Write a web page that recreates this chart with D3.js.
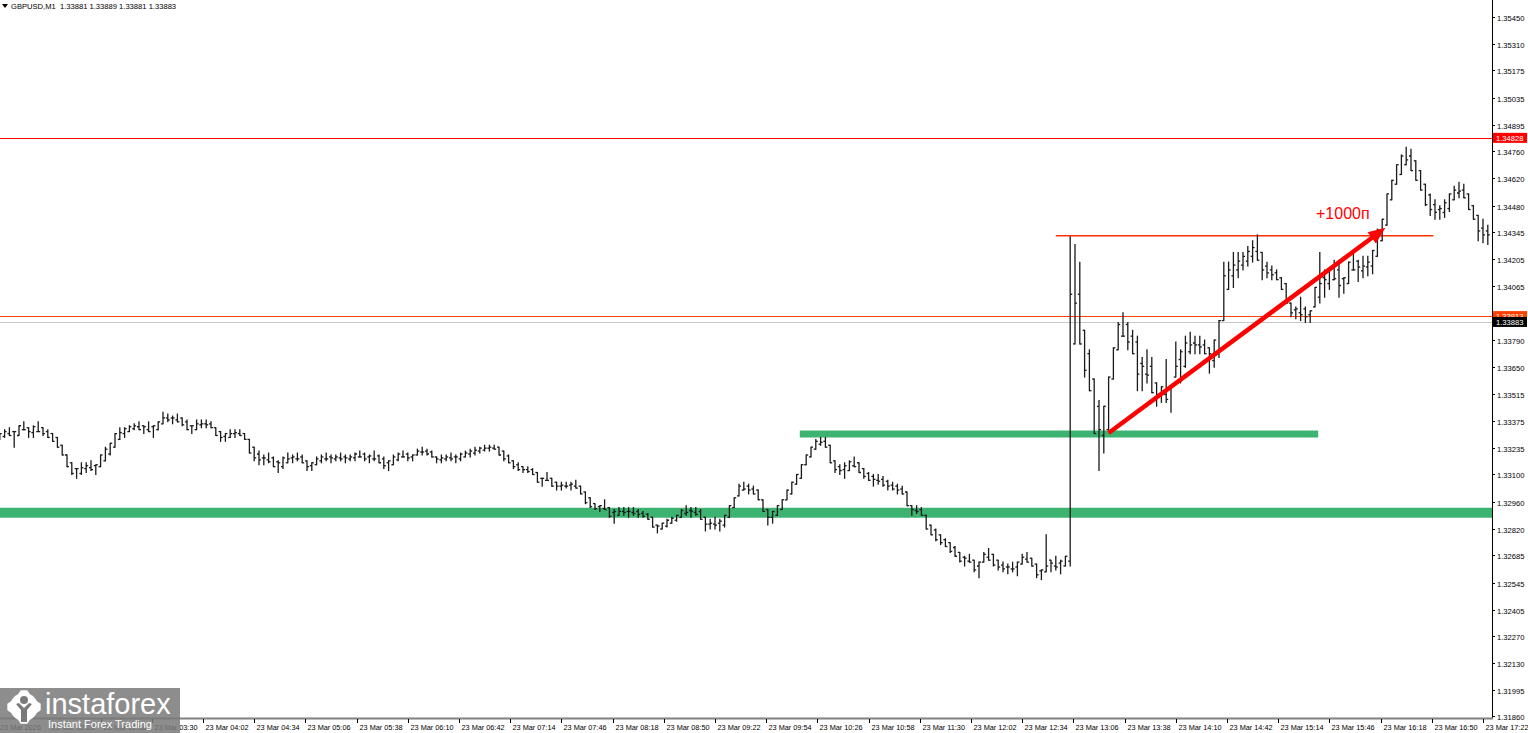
<!DOCTYPE html>
<html>
<head>
<meta charset="utf-8">
<script src="https://cdn.jsdelivr.net/npm/d3@7"></script>
<style>
  body { margin: 0; background: #fff; overflow: hidden; }
  svg { display: block; }
  text { font-family: "Liberation Sans", Arial, sans-serif; }
</style>
</head>
<body>
<svg id="chart" width="1528" height="733"></svg>
<script>
// header
var symbol = "GBPUSD,M1";
var quote = [1.33881, 1.33889, 1.33881, 1.33883];

// price bars, one every 3 minutes starting 01:55 (23 Mar)
var barStart = "01:55";
var barStep = 3;
var highs = [
  1.3331,1.3333,1.3334,1.3332,1.3335,1.3337,1.3334,1.3335,1.3337,1.3334,
  1.3333,1.3331,1.3329,1.3325,1.3320,1.3316,1.3313,1.3316,1.3316,1.3317,
  1.3315,1.3320,1.3324,1.3326,1.3331,1.3334,1.3334,1.3335,1.3336,1.3337,
  1.3335,1.3337,1.3335,1.3337,1.3342,1.3341,1.3340,1.3341,1.3339,1.3338,
  1.3335,1.3338,1.3338,1.3338,1.3337,1.3334,1.3332,1.3331,1.3333,1.3333,
  1.3333,1.3331,1.3328,1.3324,1.3322,1.3320,1.3321,1.3319,1.3317,1.3319,
  1.3321,1.3320,1.3321,1.3320,1.3317,1.3316,1.3319,1.3320,1.3321,1.3320,
  1.3320,1.3321,1.3320,1.3320,1.3321,1.3322,1.3321,1.3320,1.3322,1.3320,
  1.3319,1.3317,1.3320,1.3321,1.3322,1.3321,1.3320,1.3323,1.3324,1.3323,
  1.3322,1.3319,1.3320,1.3320,1.3321,1.3320,1.3321,1.3322,1.3323,1.3324,
  1.3324,1.3325,1.3325,1.3325,1.3324,1.3322,1.3320,1.3317,1.3316,1.3314,
  1.3314,1.3313,1.3311,1.3308,1.3311,1.3308,1.3306,1.3306,1.3306,1.3306,
  1.3307,1.3304,1.3301,1.3298,1.3295,1.3294,1.3297,1.3293,1.3292,1.3293,
  1.3293,1.3293,1.3293,1.3292,1.3291,1.3290,1.3288,1.3284,1.3285,1.3287,
  1.3288,1.3289,1.3292,1.3294,1.3293,1.3293,1.3292,1.3288,1.3287,1.3288,
  1.3287,1.3289,1.3294,1.3298,1.3305,1.3306,1.3305,1.3304,1.3302,1.3297,
  1.3292,1.3291,1.3294,1.3297,1.3302,1.3306,1.3310,1.3315,1.3320,1.3324,
  1.3328,1.3329,1.3329,1.3325,1.3317,1.3315,1.3316,1.3317,1.3319,1.3316,
  1.3313,1.3311,1.3310,1.3310,1.3309,1.3307,1.3306,1.3305,1.3304,1.3301,
  1.3294,1.3294,1.3293,1.3289,1.3284,1.3282,1.3279,1.3277,1.3275,1.3273,
  1.3270,1.3268,1.3269,1.3266,1.3265,1.3270,1.3272,1.3269,1.3266,1.3265,
  1.3264,1.3265,1.3265,1.3269,1.3270,1.3267,1.3264,1.3261,1.3279,1.3266,
  1.3268,1.3266,1.3268,1.3432,1.3428,1.3419,1.3384,1.3374,1.3359,1.3348,
  1.3345,1.3360,1.3375,1.3388,1.3393,1.3388,1.3384,1.3381,1.3370,1.3374,
  1.3370,1.3357,1.3355,1.3369,1.3355,1.3378,1.3374,1.3381,1.3383,1.3381,
  1.3381,1.3379,1.3375,1.3379,1.3389,1.3419,1.3419,1.3424,1.3424,1.3424,
  1.3427,1.3430,1.3433,1.3424,1.3419,1.3417,1.3415,1.3411,1.3408,1.3398,
  1.3396,1.3401,1.3396,1.3394,1.3406,1.3424,1.3415,1.3415,1.3420,1.3420,
  1.3411,1.3419,1.3424,1.3420,1.3422,1.3422,1.3425,1.3436,1.3441,1.3454,
  1.3461,1.3469,1.3474,1.3478,1.3477,1.3471,1.3466,1.3459,1.3454,1.3451,
  1.3448,1.3451,1.3454,1.3458,1.3460,1.3459,1.3454,1.3448,1.3443,1.3441,1.3438
];
var lows = [
  1.3328,1.3329,1.3330,1.3324,1.3330,1.3333,1.3329,1.3329,1.3332,1.3330,
  1.3329,1.3327,1.3324,1.3320,1.3314,1.3310,1.3308,1.3310,1.3311,1.3312,
  1.3310,1.3314,1.3317,1.3320,1.3324,1.3328,1.3329,1.3332,1.3333,1.3333,
  1.3331,1.3332,1.3329,1.3333,1.3336,1.3337,1.3336,1.3337,1.3335,1.3333,
  1.3331,1.3333,1.3334,1.3334,1.3334,1.3330,1.3327,1.3327,1.3329,1.3329,
  1.3330,1.3328,1.3321,1.3317,1.3315,1.3315,1.3316,1.3314,1.3311,1.3313,
  1.3316,1.3316,1.3317,1.3316,1.3312,1.3312,1.3315,1.3316,1.3317,1.3316,
  1.3317,1.3317,1.3316,1.3317,1.3317,1.3319,1.3317,1.3316,1.3317,1.3316,
  1.3313,1.3312,1.3315,1.3317,1.3319,1.3317,1.3317,1.3320,1.3320,1.3320,
  1.3319,1.3316,1.3316,1.3317,1.3317,1.3316,1.3317,1.3319,1.3319,1.3320,
  1.3321,1.3322,1.3322,1.3323,1.3320,1.3317,1.3316,1.3313,1.3312,1.3311,
  1.3311,1.3310,1.3306,1.3304,1.3307,1.3304,1.3302,1.3302,1.3303,1.3302,
  1.3303,1.3300,1.3295,1.3293,1.3292,1.3291,1.3292,1.3288,1.3285,1.3289,
  1.3289,1.3288,1.3289,1.3288,1.3288,1.3287,1.3283,1.3280,1.3282,1.3283,
  1.3285,1.3286,1.3288,1.3289,1.3288,1.3289,1.3287,1.3281,1.3282,1.3282,
  1.3281,1.3283,1.3288,1.3293,1.3299,1.3302,1.3300,1.3300,1.3297,1.3291,
  1.3284,1.3285,1.3289,1.3292,1.3297,1.3300,1.3305,1.3308,1.3315,1.3319,
  1.3323,1.3325,1.3324,1.3316,1.3311,1.3310,1.3308,1.3312,1.3314,1.3311,
  1.3308,1.3307,1.3304,1.3305,1.3304,1.3302,1.3302,1.3300,1.3300,1.3294,
  1.3289,1.3290,1.3289,1.3282,1.3279,1.3276,1.3274,1.3273,1.3270,1.3268,
  1.3265,1.3263,1.3265,1.3260,1.3257,1.3265,1.3266,1.3263,1.3261,1.3260,
  1.3259,1.3260,1.3258,1.3264,1.3265,1.3263,1.3257,1.3256,1.3260,1.3260,
  1.3261,1.3259,1.3263,1.3263,1.3377,1.3377,1.3360,1.3353,1.3331,1.3312,
  1.3321,1.3333,1.3359,1.3374,1.3381,1.3374,1.3372,1.3353,1.3353,1.3357,
  1.3352,1.3345,1.3347,1.3347,1.3342,1.3360,1.3357,1.3365,1.3372,1.3372,
  1.3372,1.3372,1.3362,1.3365,1.3370,1.3389,1.3405,1.3406,1.3411,1.3415,
  1.3417,1.3419,1.3420,1.3410,1.3411,1.3410,1.3410,1.3405,1.3398,1.3391,
  1.3390,1.3389,1.3388,1.3388,1.3396,1.3398,1.3401,1.3405,1.3410,1.3401,
  1.3403,1.3408,1.3415,1.3409,1.3411,1.3412,1.3413,1.3422,1.3430,1.3438,
  1.3451,1.3459,1.3464,1.3469,1.3466,1.3461,1.3456,1.3448,1.3443,1.3441,
  1.3441,1.3442,1.3445,1.3451,1.3452,1.3452,1.3446,1.3441,1.3430,1.3429,1.3428
];

// axis ticks
var priceTicks = ["1.35450","1.35310","1.35175","1.35035","1.34895","1.34760","1.34620",
  "1.34480","1.34345","1.34205","1.34065","1.33930","1.33790","1.33650","1.33515",
  "1.33375","1.33235","1.33100","1.32960","1.32820","1.32685","1.32545","1.32405",
  "1.32270","1.32130","1.31995","1.31860"];
var timeTicks = ["01:54","02:26","02:58","03:30","04:02","04:34","05:06","05:38","06:10",
  "06:42","07:14","07:46","08:18","08:50","09:22","09:54","10:26","10:58","11:30",
  "12:02","12:34","13:06","13:38","14:10","14:42","15:14","15:46","16:18","16:50","17:22"];
var dayLabel = "23 Mar";
var firstLabel = "23 Mar 2026";

// drawn objects
var redLevel = 1.34828;
var orangeLevel = 1.33913;
var bidLevel = 1.33883;
var greenWide = 1.32903;
var greenShort = { from: "10:15", to: "15:39", price: 1.33308 };
var topSegment = { from: "12:55", to: "16:51", price: 1.34325 };
var arrowTimes = ["13:28", "16:21"];
var arrowPrices = [1.33313, 1.34366];
var arrowText = "+1000п";

function toMin(s) { var p = s.split(":"); return +p[0] * 60 + +p[1]; }

var svg = d3.select("#chart");
var plotR = 1492, plotB = 718;

var x = d3.scaleLinear().domain([toMin("12:02"), toMin("17:22")]).range([971, 1483]);
var y = d3.scaleLinear().domain([1.31860, 1.35450]).range([716, 16.7]);

var plot = svg.append("g");
svg.append("clipPath").attr("id", "clip").append("rect")
  .attr("x", 0).attr("y", 0).attr("width", plotR).attr("height", plotB);
plot.attr("clip-path", "url(#clip)");

// green zones
plot.append("line")
  .attr("x1", 0).attr("x2", plotR)
  .attr("y1", y(greenWide)).attr("y2", y(greenWide))
  .attr("stroke", "#3cb371").attr("stroke-width", 10);
plot.append("line")
  .attr("x1", x(toMin(greenShort.from))).attr("x2", x(toMin(greenShort.to)))
  .attr("y1", y(greenShort.price)).attr("y2", y(greenShort.price))
  .attr("stroke", "#3cb371").attr("stroke-width", 7);

// horizontal levels
plot.append("line")
  .attr("x1", 0).attr("x2", plotR)
  .attr("y1", Math.round(y(redLevel)) + 0.5).attr("y2", Math.round(y(redLevel)) + 0.5)
  .attr("stroke", "#ff0000");
plot.append("line")
  .attr("x1", 0).attr("x2", plotR)
  .attr("y1", Math.round(y(bidLevel)) + 0.5).attr("y2", Math.round(y(bidLevel)) + 0.5)
  .attr("stroke", "#c8c8c8");
plot.append("line")
  .attr("x1", 0).attr("x2", plotR)
  .attr("y1", Math.round(y(orangeLevel)) + 0.5).attr("y2", Math.round(y(orangeLevel)) + 0.5)
  .attr("stroke", "#ff4000");
plot.append("line")
  .attr("x1", x(toMin(topSegment.from))).attr("x2", x(toMin(topSegment.to)))
  .attr("y1", y(topSegment.price)).attr("y2", y(topSegment.price))
  .attr("stroke", "#ff3000").attr("stroke-width", 1.5);

// bars
var t0 = toMin(barStart);
var bars = highs.map(function(h, i) {
  return { t: t0 + i * barStep, h: h, l: lows[i] };
});
var mid = function(b) { return (b.h + b.l) / 2; };
var clamp = function(v, b) { return Math.max(b.l, Math.min(b.h, v)); };
var barG = plot.append("g").attr("stroke", "#1a1a1a").attr("stroke-width", 1.3);
bars.forEach(function(b, i) {
  var bx = x(b.t);
  var o = i > 0 ? clamp(mid(bars[i - 1]), b) : mid(b);
  var c = i < bars.length - 1 ? clamp(mid(bars[i + 1]), b) : mid(b);
  barG.append("line").attr("x1", bx).attr("x2", bx)
    .attr("y1", y(b.h) - 0.5).attr("y2", y(b.l) + 0.5);
  barG.append("line").attr("x1", bx - 2).attr("x2", bx).attr("y1", y(o)).attr("y2", y(o));
  barG.append("line").attr("x1", bx).attr("x2", bx + 2).attr("y1", y(c)).attr("y2", y(c));
});

// arrow
var ax1 = x(toMin(arrowTimes[0])), ay1 = y(arrowPrices[0]);
var ax2 = x(toMin(arrowTimes[1])), ay2 = y(arrowPrices[1]);
var ang = Math.atan2(ay2 - ay1, ax2 - ax1);
var headL = 17, headW = 7;
var bx0 = ax2 - headL * Math.cos(ang), by0 = ay2 - headL * Math.sin(ang);
plot.append("line")
  .attr("x1", ax1).attr("y1", ay1).attr("x2", bx0 + 2 * Math.cos(ang)).attr("y2", by0 + 2 * Math.sin(ang))
  .attr("stroke", "#ff0000").attr("stroke-width", 4.5);
plot.append("polygon")
  .attr("points", [
    [ax2, ay2],
    [bx0 + headW * Math.sin(ang), by0 - headW * Math.cos(ang)],
    [bx0 - headW * Math.sin(ang), by0 + headW * Math.cos(ang)]
  ].map(function(p) { return p.join(","); }).join(" "))
  .attr("fill", "#ff0000");
plot.append("text")
  .attr("x", 1316).attr("y", 219)
  .attr("font-size", 16).attr("fill", "#ff0000")
  .text(arrowText);

// axes frame
svg.append("line").attr("x1", plotR + 0.5).attr("x2", plotR + 0.5)
  .attr("y1", 0).attr("y2", plotB + 1).attr("stroke", "#000");
svg.append("line").attr("x1", 0).attr("x2", plotR + 1)
  .attr("y1", plotB + 0.5).attr("y2", plotB + 0.5).attr("stroke", "#808080").attr("stroke-width", 2);

// price axis
var pAxis = svg.append("g").attr("font-size", 7.6).attr("fill", "#000");
priceTicks.forEach(function(s) {
  var py = Math.round(y(+s)) + 0.5;
  pAxis.append("line").attr("x1", plotR).attr("x2", plotR + 3)
    .attr("y1", py).attr("y2", py).attr("stroke", "#000");
  pAxis.append("text").attr("x", plotR + 5).attr("y", py + 3).text(s);
});

// time axis
var tAxis = svg.append("g").attr("font-size", 7.3).attr("fill", "#000");
timeTicks.forEach(function(s, i) {
  var tx = Math.round(x(toMin(s))) + 0.5;
  tAxis.append("line").attr("x1", tx).attr("x2", tx)
    .attr("y1", plotB + 1).attr("y2", plotB + 5).attr("stroke", "#000");
  tAxis.append("text").attr("x", i === 0 ? 0 : tx + 2).attr("y", 730)
    .text(i === 0 ? firstLabel : dayLabel + " " + s);
});

// price labels on the axis
function priceBox(v, fill) {
  var py = y(v);
  var g = svg.append("g");
  g.append("rect").attr("x", plotR + 1).attr("y", py - 5).attr("width", 34).attr("height", 10).attr("fill", fill);
  g.append("text").attr("x", plotR + 4).attr("y", py + 3).attr("font-size", 7.6)
    .attr("fill", "#fff").text(v.toFixed(5));
}
priceBox(redLevel, "#ff0000");
priceBox(orangeLevel, "#ff4000");
priceBox(bidLevel, "#000");

// header
svg.append("path").attr("d", "M2,4 L8,4 L5,8 Z").attr("fill", "#000");
svg.append("text").attr("x", 11).attr("y", 9).attr("font-size", 7.6).attr("fill", "#000")
  .attr("xml:space", "preserve")
  .text(symbol + "  " + quote.map(function(q) { return q.toFixed(5); }).join(" "));

// logo
var logo = svg.append("g");
logo.append("rect").attr("x", 0).attr("y", 688).attr("width", 180).attr("height", 45)
  .attr("fill", "#7a7a7a").attr("opacity", 0.86);
var gear = d3.range(16).map(function(i) {
  var a = i / 16 * 2 * Math.PI - Math.PI / 16;
  var r = (Math.floor(i / 2) % 2 === 0) ? 17 : 13;
  return [24 + r * Math.cos(a), 707 + r * Math.sin(a)];
});
logo.append("polygon").attr("points", gear.map(function(p) { return p.join(","); }).join(" ")).attr("fill", "#fff");
logo.append("circle").attr("cx", 24).attr("cy", 707).attr("r", 14).attr("fill", "#fff");
logo.append("circle").attr("cx", 24).attr("cy", 700).attr("r", 4).attr("fill", "#7a7a7a");
logo.append("path").attr("d", "M16,704 L21,710 L21,722 L27,722 L27,710 L32,704 L29,703 L24,708 L19,703 Z").attr("fill", "#7a7a7a");
logo.append("text").attr("x", 45).attr("y", 714).attr("font-size", 29).attr("fill", "#fff").text("instaforex");
logo.append("text").attr("x", 48).attr("y", 728).attr("font-size", 11).attr("fill", "#fff").text("Instant Forex Trading");
</script>
</body>
</html>
